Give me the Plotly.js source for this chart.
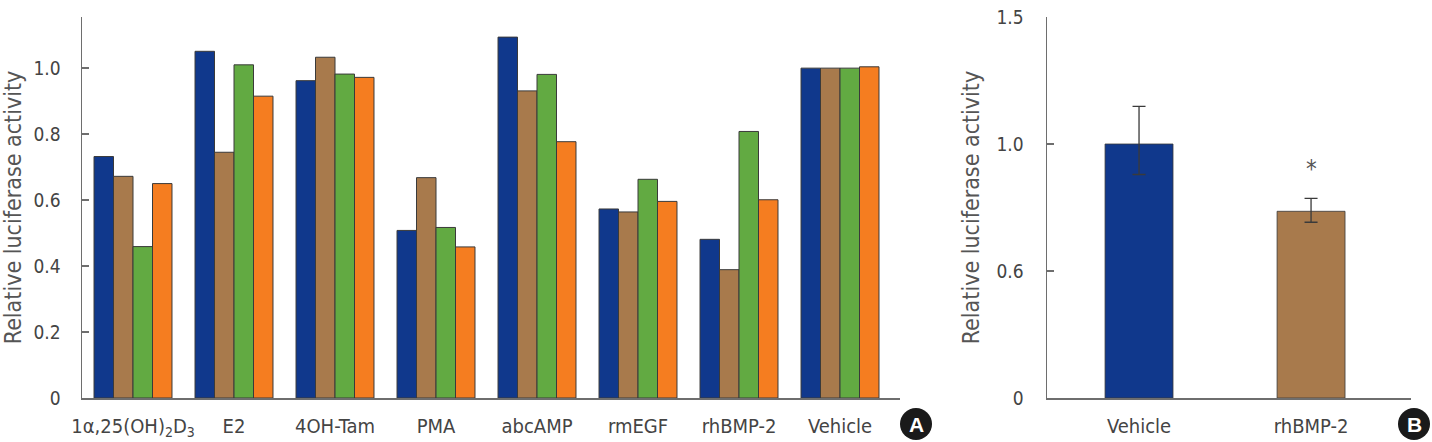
<!DOCTYPE html>
<html><head><meta charset="utf-8">
<script src="https://cdn.plot.ly/plotly-3.0.1.min.js"></script>
<style>html,body{margin:0;padding:0;background:#fff}#chart{width:1432px;height:442px}</style>
</head><body><div id="chart"></div>
<script>
// Panel A data
const categoriesA = ['1α,25(OH)<sub>2</sub>D<sub>3</sub>', 'E2', '4OH-Tam', 'PMA', 'abcAMP', 'rmEGF', 'rhBMP-2', 'Vehicle'];
const series1 = [0.732, 1.051, 0.962, 0.508, 1.094, 0.573, 0.481, 1.000];
const series2 = [0.672, 0.745, 1.033, 0.668, 0.931, 0.564, 0.389, 1.000];
const series3 = [0.459, 1.010, 0.982, 0.517, 0.981, 0.663, 0.808, 1.000];
const series4 = [0.650, 0.915, 0.972, 0.458, 0.777, 0.596, 0.601, 1.004];
const seriesColors = ['#10388c', '#a87a4c', '#62aa42', '#f57d20'];
const yTicksA = [0, 0.2, 0.4, 0.6, 0.8, 1.0, 1.155];
const yTickTextA = ['0', '0.2', '0.4', '0.6', '0.8', '1.0', ' '];

// Panel B data
const categoriesB = ['Vehicle', 'rhBMP-2'];
const valuesB = [1.0, 0.735];
const errUpB = [0.148, 0.051];
const errDownB = [0.12, 0.043];
const colorsB = ['#10388c', '#a87a4c'];
const yTicksB = [0, 0.5, 1.0, 1.5];
const yTickTextB = ['0', '0.6', '1.0', '1.5'];

const FONT = "'DejaVu Sans Condensed', 'Liberation Sans Narrow', 'Liberation Sans', sans-serif";
const TXT = '#444';
const AX = '#6e6e6e';
const W = 1432;

const seriesA = [series1, series2, series3, series4];
const traces = seriesA.map((s, i) => ({
  type: 'bar', x: categoriesA, y: s, xaxis: 'x', yaxis: 'y',
  marker: {color: seriesColors[i], line: {color: '#3a3a3a', width: 1}},
  hoverinfo: 'y', showlegend: false
}));
traces.push({
  type: 'bar', x: categoriesB, y: valuesB, xaxis: 'x2', yaxis: 'y2', width: 0.395,
  marker: {color: colorsB, line: {color: '#3a3a3a', width: 0.8}},
  error_y: {type: 'data', symmetric: false, array: errUpB, arrayminus: errDownB, color: '#3a3a3a', thickness: 1.3, width: 6.5},
  showlegend: false
});

const axisCommon = {
  showline: true, linecolor: AX, linewidth: 1.5, showgrid: false, zeroline: false,
  tickfont: {family: FONT, size: 19, color: TXT}
};

const layout = {
  width: W, height: 442,
  margin: {l: 0, r: 0, t: 17, b: 44},
  paper_bgcolor: '#fff', plot_bgcolor: '#fff',
  barmode: 'group', bargap: 0.228, bargroupgap: 0,
  xaxis: Object.assign({}, axisCommon, {
    domain: [82 / W, 900 / W], type: 'category', range: [-0.505, 7.594],
    tickfont: {family: FONT, size: 20, color: TXT},
    ticks: '', ticklabelstandoff: 9, automargin: false
  }),
  yaxis: Object.assign({}, axisCommon, {
    range: [0, 1.155], tickvals: yTicksA, ticktext: yTickTextA,
    ticks: 'inside', ticklen: 7, tickcolor: AX, tickwidth: 1.5,
    ticklabelstandoff: 16, automargin: false,
    title: {text: 'Relative luciferase activity', font: {family: FONT, size: 23, color: '#555'}, standoff: 28}
  }),
  xaxis2: Object.assign({}, axisCommon, {
    domain: [1047 / W, 1411 / W], type: 'category', range: [-0.535, 1.581],
    tickfont: {family: FONT, size: 20, color: TXT},
    ticks: '', ticklabelstandoff: 9, automargin: false, anchor: 'y2'
  }),
  yaxis2: Object.assign({}, axisCommon, {
    anchor: 'x2', range: [0, 1.5], tickvals: yTicksB, ticktext: yTickTextB,
    ticks: 'inside', ticklen: 7, tickcolor: AX, tickwidth: 1.5,
    ticklabelstandoff: 18, automargin: false,
    title: {text: 'Relative luciferase activity', font: {family: FONT, size: 23, color: '#555'}, standoff: 10}
  }),
  annotations: [
    {xref: 'x2', yref: 'y2', x: 1, y: 0.9, text: '*', showarrow: false,
     font: {family: FONT, size: 24, color: '#555'}},
    {xref: 'paper', yref: 'paper', x: 916 / W, y: -26 / 381, xanchor: 'center', yanchor: 'middle',
     text: '<b>A</b>', showarrow: false,
     font: {family: "'Liberation Sans', sans-serif", size: 21, color: '#fff'}},
    {xref: 'paper', yref: 'paper', x: 1414 / W, y: -26 / 381, xanchor: 'center', yanchor: 'middle',
     text: '<b>B</b>', showarrow: false,
     font: {family: "'Liberation Sans', sans-serif", size: 21, color: '#fff'}}
  ],
  shapes: [
    {type: 'circle', xref: 'paper', yref: 'paper', xsizemode: 'pixel', ysizemode: 'pixel', layer: 'below',
     xanchor: 916 / W, yanchor: -26 / 381, x0: -16, x1: 16, y0: -16, y1: 16,
     fillcolor: '#1a1a1a', line: {width: 0}},
    {type: 'circle', xref: 'paper', yref: 'paper', xsizemode: 'pixel', ysizemode: 'pixel', layer: 'below',
     xanchor: 1414 / W, yanchor: -26 / 381, x0: -16, x1: 16, y0: -16, y1: 16,
     fillcolor: '#1a1a1a', line: {width: 0}}
  ]
};

Plotly.newPlot('chart', traces, layout, {displayModeBar: false, staticPlot: true});
</script>
</body></html>
